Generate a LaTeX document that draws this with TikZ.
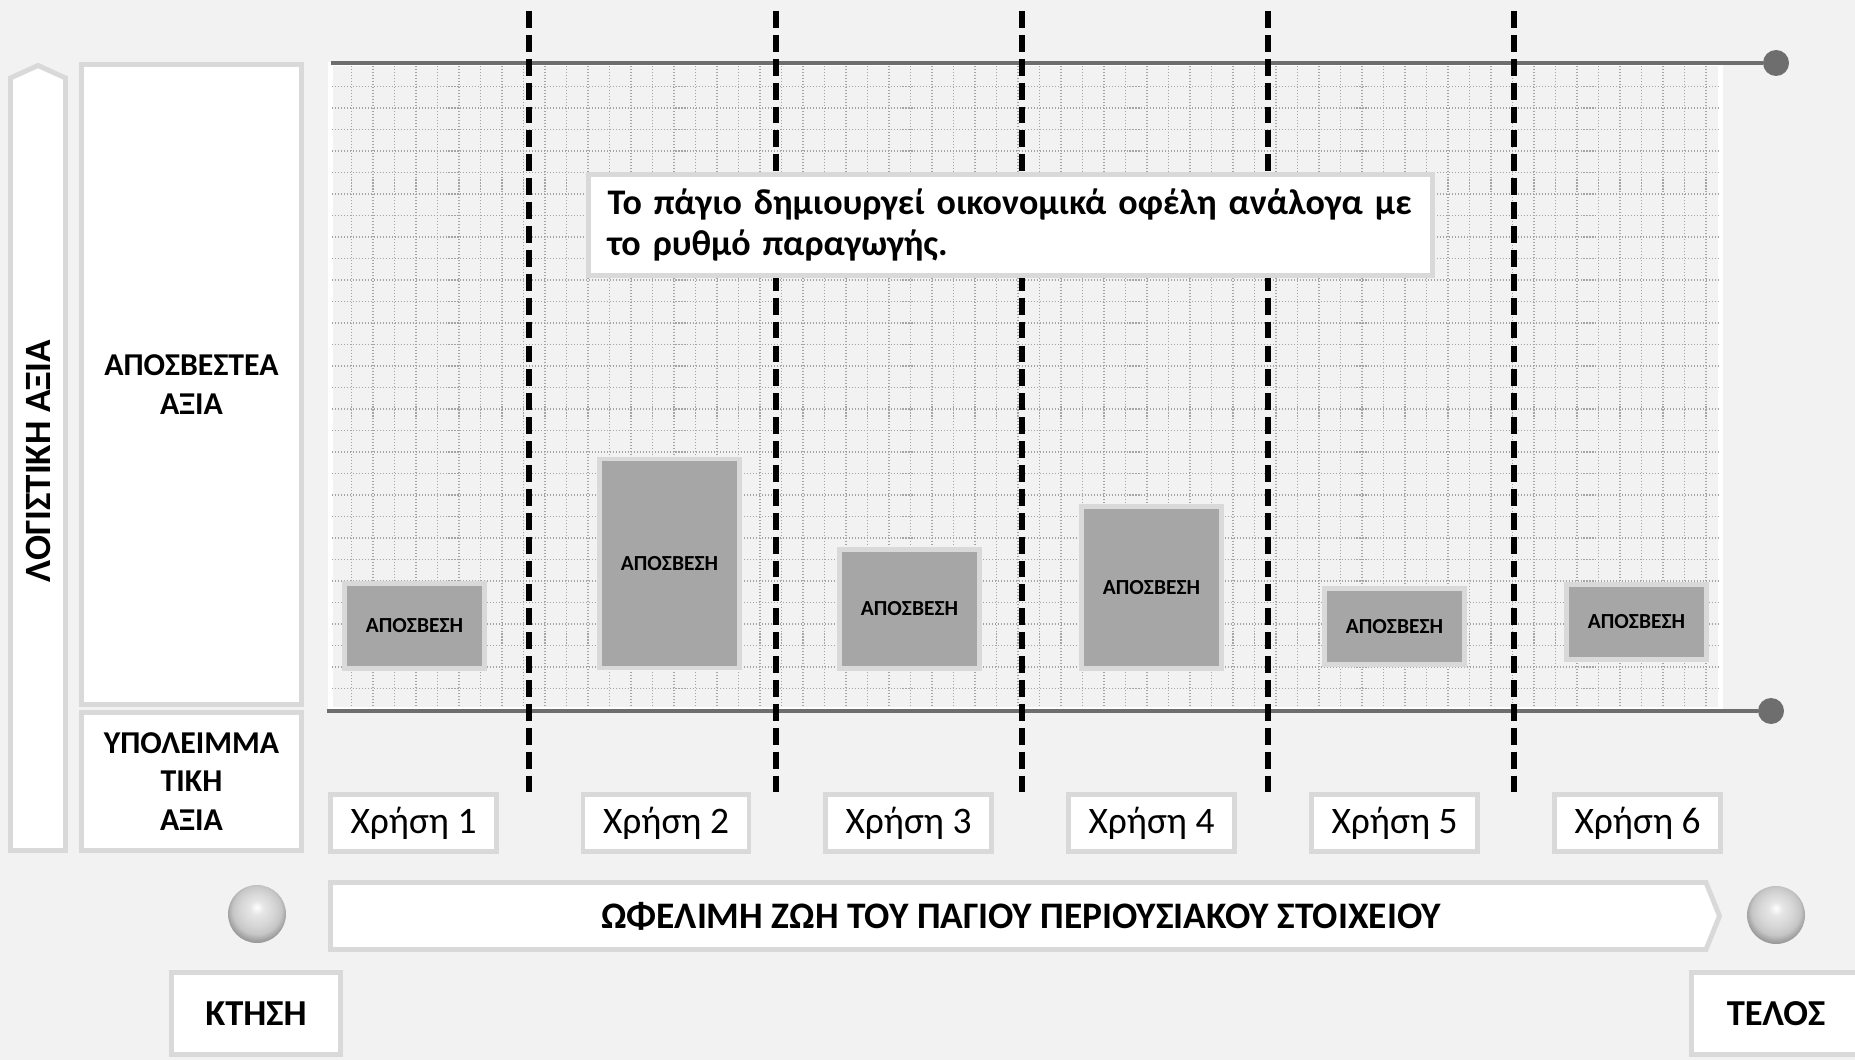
\documentclass[tikz,border=0pt]{standalone}
\usepackage{fontspec}
\setmainfont{Carlito}
\definecolor{paper}{HTML}{F2F2F2}
\definecolor{rim}{HTML}{D9D9D9}
\definecolor{slab}{HTML}{A6A6A6}
\definecolor{rail}{HTML}{6E6E6E}
\definecolor{dotgray}{HTML}{A4A4A4}
\pgfdeclareradialshading{pearl}{\pgfpoint{0bp}{6bp}}{color(0bp)=(white); color(6bp)=(gray!20); color(15bp)=(gray!33); color(21bp)=(gray!45); color(25bp)=(gray!70); color(29bp)=(gray!90); color(50bp)=(gray!90)}

\begin{document}
\begin{tikzpicture}[x=0.02cm, y=-0.02cm,
		card/.style={draw=rim, line width=2.8pt, fill=white, inner sep=0pt, align=center},
		slabbox/.style={draw=rim, line width=2.8pt, fill=slab, inner sep=0pt, minimum width=2.8cm,
			font=\fontsize{12.2}{14}\selectfont\bfseries},
		yearbox/.style={card, minimum width=3.32cm, minimum height=1.14cm, font=\fontsize{21.3}{25}\selectfont},
		capbox/.style={card, font=\fontsize{18.1}{22}\selectfont\bfseries},
		endbox/.style={card, minimum width=3.38cm, minimum height=1.64cm, font=\fontsize{20.8}{24}\selectfont\bfseries},
		knob/.style={circle, fill=rail, inner sep=0pt, minimum size=0.52cm},
		bead/.style={circle, shading=pearl, inner sep=0pt, minimum size=1.16cm},
		divider/.style={line width=3.4pt, dash pattern=on 9.6pt off 4pt},
		gridline/.style={dotgray, line width=0.7pt, dash pattern=on 0.6pt off 1.1pt}]
	% Canvas
	\fill[paper] (0,0) rectangle (1855,1060);
	\useasboundingbox (0,0) rectangle (1855,1060);

	% Side labels
	\draw[rim, line width=2.8pt, fill=white] (10.5,850.5) -- (10.5,78) -- (38,65.5) -- (65.5,78) -- (65.5,850.5) -- cycle;
	\node[rotate=90, font=\fontsize{21.1}{24}\selectfont\bfseries] (book) at (38,461) {ΛΟΓΙΣΤΙΚΗ ΑΞΙΑ};
	\node[capbox, minimum width=4.4cm, minimum height=12.8cm] (deprec) at (191.5,384.5) {ΑΠΟΣΒΕΣΤΕΑ\\ΑΞΙΑ};
	\node[capbox, minimum width=4.4cm, minimum height=2.76cm] (resid) at (191.5,781.5) {ΥΠΟΛΕΙΜΜΑ\\ΤΙΚΗ\\ΑΞΙΑ};

	% Grid
	\draw[white, line width=2.5pt, fill=paper] (330.5,64) rectangle (1720.5,709);
	\foreach \gx in {351.5,373,...,1713}
		\draw[gridline] (\gx,66) -- (\gx,707);
	\foreach \gy in {86.5,108,...,700}
		\draw[gridline] (332,\gy) -- (1719,\gy);

	% Rails
	\coordinate (topstart) at (331,63);
	\coordinate (botstart) at (327,711);
	\node[knob] (topend) at (1776,63) {};
	\node[knob] (botend) at (1771,711) {};
	\draw[rail, line width=2.8pt] (topstart) -- (topend);
	\draw[rail, line width=2.8pt] (botstart) -- (botend);

	% Depreciation blocks
	\node[slabbox, minimum height=1.7cm] (dep1) at (414.5,626) {ΑΠΟΣΒΕΣΗ};
	\node[slabbox, minimum height=4.18cm] (dep2) at (669.5,563.5) {ΑΠΟΣΒΕΣΗ};
	\node[slabbox, minimum height=2.38cm] (dep3) at (909.5,609) {ΑΠΟΣΒΕΣΗ};
	\node[slabbox, minimum height=3.24cm] (dep4) at (1151.5,587.5) {ΑΠΟΣΒΕΣΗ};
	\node[slabbox, minimum height=1.52cm] (dep5) at (1394.5,626.5) {ΑΠΟΣΒΕΣΗ};
	\node[slabbox, minimum height=1.5cm] (dep6) at (1636.5,622) {ΑΠΟΣΒΕΣΗ};

	% Dividers
	\foreach \dx in {529,776,1022,1268,1514}
		\draw[divider] (\dx,11) -- (\dx,793);

	% Note
	\node[card, align=left, inner xsep=0.38cm, text width=16.12cm, minimum height=2.02cm,
		font=\fontsize{20.5}{23.5}\selectfont\bfseries] (note) at (1010.5,225)
		{Το πάγιο δημιουργεί οικονομικά οφέλη ανάλογα με\\το ρυθμό παραγωγής.};

	% Years
	\node[yearbox] (yr1) at (413.5,823) {Χρήση 1};
	\node[yearbox] (yr2) at (666,823) {Χρήση 2};
	\node[yearbox] (yr3) at (908.5,823) {Χρήση 3};
	\node[yearbox] (yr4) at (1151.5,823) {Χρήση 4};
	\node[yearbox] (yr5) at (1394.5,823) {Χρήση 5};
	\node[yearbox] (yr6) at (1637.5,823) {Χρήση 6};

	% Useful life
	\draw[rim, line width=2.8pt, fill=white] (330.5,882.5) -- (1706,882.5) -- (1719.5,916) -- (1706,949.5) -- (330.5,949.5) -- cycle;
	\node[font=\fontsize{21.3}{24}\selectfont\bfseries] (life) at (1021,916) {ΩΦΕΛΙΜΗ ΖΩΗ ΤΟΥ ΠΑΓΙΟΥ ΠΕΡΙΟΥΣΙΑΚΟΥ ΣΤΟΙΧΕΙΟΥ};
	\node[bead] (startball) at (257,914) {};
	\node[bead] (endball) at (1776,915) {};
	\node[endbox] (buy) at (256,1013.5) {ΚΤΗΣΗ};
	\node[endbox] (stop) at (1776,1013.5) {ΤΕΛΟΣ};
\end{tikzpicture}
\end{document}
